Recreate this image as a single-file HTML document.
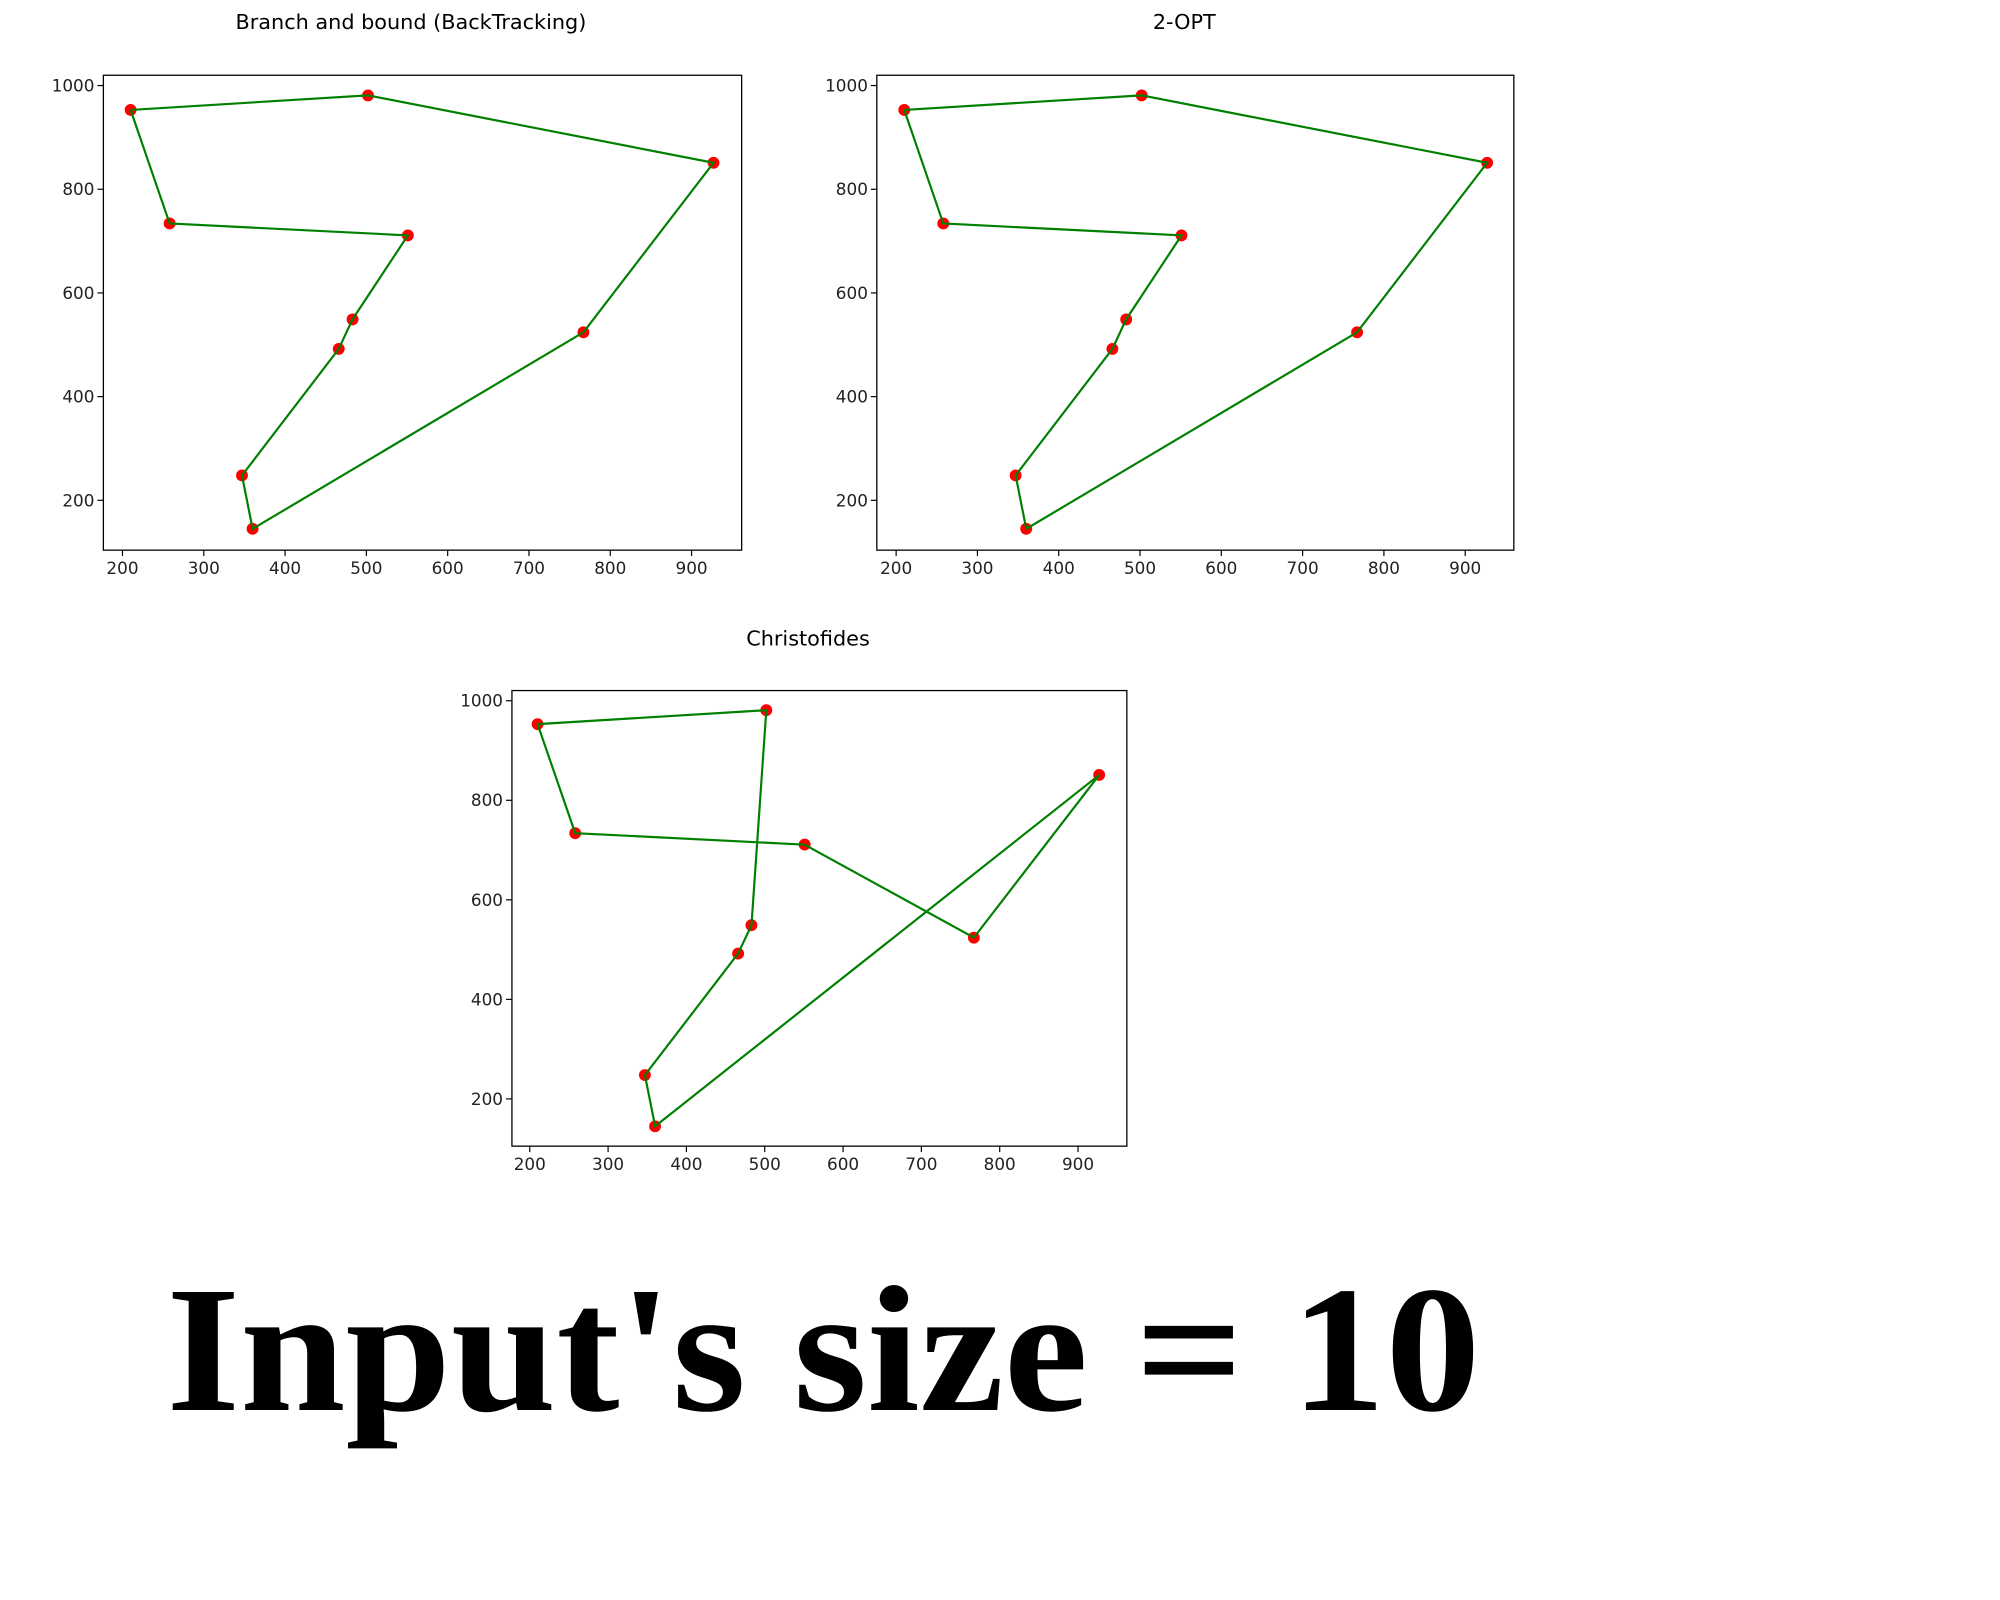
<!DOCTYPE html>
<html><head><meta charset="utf-8"><style>
html,body{margin:0;padding:0;background:#fff;}
svg{display:block;}
text{font-family:"DejaVu Sans","Liberation Sans",sans-serif;}
</style></head><body>
<svg width="2000" height="1600" xmlns="http://www.w3.org/2000/svg">
<rect width="2000" height="1600" fill="#fff"/>
<g id="root" transform="scale(0.9902)">
<text x="168" y="1424" font-weight="bold" font-size="182" textLength="1327" lengthAdjust="spacingAndGlyphs" fill="#000" style="font-family:'Liberation Serif',serif">Input's size = 10</text>
</g>
</svg>
<script>
const xs = [210, 502, 927, 767, 360, 347, 466, 483, 551, 258];
const ys = [953, 981, 851, 524, 145, 248, 492, 549, 711, 734];
const orderBB = [0, 1, 2, 3, 4, 5, 6, 7, 8, 9, 0];
const order2opt = [0, 1, 2, 3, 4, 5, 6, 7, 8, 9, 0];
const orderChr = [0, 1, 7, 6, 5, 4, 2, 3, 8, 9, 0];
const xTicks = [200, 300, 400, 500, 600, 700, 800, 900];
const yTicks = [200, 400, 600, 800, 1000];
const titles = ["Branch and bound (BackTracking)", "2-OPT", "Christofides"];

const NS = "http://www.w3.org/2000/svg";
const root = document.getElementById('root');
function mk(tag, attrs, parent){const e=document.createElementNS(NS,tag);for(const k in attrs)e.setAttribute(k,attrs[k]);(parent||root).appendChild(e);return e;}

const panels = [
 {L:104.4,R:749,T:76,B:555.6,x0:123.7,xs100:82.1,y1000:86.4,ys100:52.36,tx:415,ty:23,order:orderBB,name:'branch-and-bound'},
 {L:885.5,R:1528.8,T:76,B:555.6,x0:905,xs100:82.1,y1000:86.4,ys100:52.36,tx:1196,ty:23,order:order2opt,name:'two-opt'},
 {L:517,R:1138,T:697.4,B:1157.5,x0:535,xs100:79.1,y1000:707.7,ys100:50.26,tx:816,ty:646,order:orderChr,name:'christofides'}
];
panels.forEach((p,pi)=>{
 const g=mk('g',{});
 
 
 const sx=v=>p.x0+(v-200)/100*p.xs100;
 const sy=v=>p.y1000+(1000-v)/100*p.ys100;
 const t=mk('text',{x:p.tx,y:p.ty,'text-anchor':'middle','dominant-baseline':'middle','font-size':21,fill:'#000'},g);
 t.textContent=titles[pi];
 
 
 xTicks.forEach(v=>{
  mk('line',{x1:sx(v),x2:sx(v),y1:p.B,y2:p.B+6,stroke:'#000','stroke-width':1.2},g);
  const l=mk('text',{x:sx(v),y:p.B+24,'text-anchor':'middle','font-size':17,fill:'#222'},g);
  l.textContent=v;
  
  
 });
 yTicks.forEach(v=>{
  mk('line',{x1:p.L-6,x2:p.L,y1:sy(v),y2:sy(v),stroke:'#000','stroke-width':1.2},g);
  const l=mk('text',{x:p.L-9,y:sy(v)+6,'text-anchor':'end','font-size':17,fill:'#222'},g);
  l.textContent=v;
  
  
 });
 const pts=p.order.map(i=>sx(xs[i]).toFixed(1)+','+sy(ys[i]).toFixed(1)).join(' ');
 xs.forEach((x,i)=>{
  const c=mk('circle',{cx:sx(x),cy:sy(ys[i]),r:6,fill:'#ff0000'},g);
  
  
 });
 const pl=mk('polyline',{points:pts,fill:'none',stroke:'#008000','stroke-width':2.2},g);
 
 
 const fr=mk('rect',{x:p.L,y:p.T,width:p.R-p.L,height:p.B-p.T,fill:'none',stroke:'#000','stroke-width':1.3},g);
 
 
});
</script>
</body></html>
